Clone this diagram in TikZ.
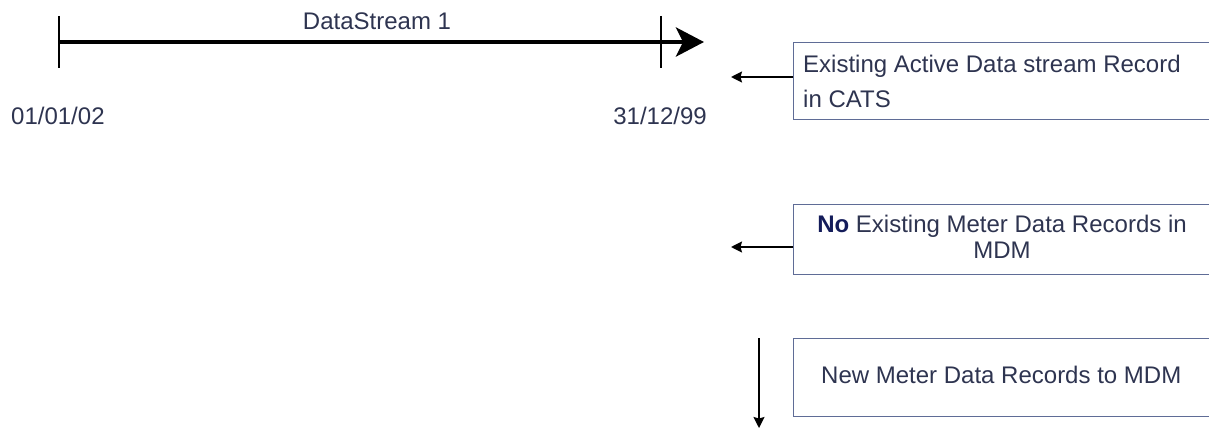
\documentclass[tikz,border=0pt]{standalone}
\usepackage{fontspec}
\setmainfont{Liberation Sans}
\usetikzlibrary{arrows.meta}
\definecolor{txt}{RGB}{46,52,80}
\definecolor{boldtxt}{RGB}{20,28,90}
\definecolor{boxline}{RGB}{95,108,150}
\tikzset{
  lbl/.style={inner sep=0pt, text=txt, font=\fontsize{24}{28}\selectfont},
  recbox/.style={draw=boxline, line width=1.3pt, inner sep=0pt, anchor=north west},
  tick/.style={line width=1.3pt, black},
  mainarrow/.style={line width=4.5pt, -{Stealth[length=28pt,width=29pt,inset=7pt]}},
  ptr/.style={line width=1.6pt, -{Stealth[length=11pt,width=11pt,inset=1.5pt]}}
}
\begin{document}
\begin{tikzpicture}[x=1pt,y=-1pt]
\useasboundingbox (0,0) rectangle (1209,428);
% timeline
\coordinate (t0) at (59,42);
\coordinate (t1) at (704,42);
\coordinate (k0a) at (59,16);
\coordinate (k0b) at (59,68);
\coordinate (k1a) at (661,16);
\coordinate (k1b) at (661,68);
\draw[mainarrow] (t0) -- (t1);
\draw[tick] (k0a) -- (k0b);
\draw[tick] (k1a) -- (k1b);
\node[lbl, anchor=base] (ds) at (377,30) {DataStream 1};
\node[lbl, anchor=base west] (d0) at (11,124) {01/01/02};
\node[lbl, anchor=base east] (d1) at (707,124) {31/12/99};
% box 1
\node[recbox, minimum width=425pt, minimum height=77pt] (box1) at (793,42) {};
\node[lbl, anchor=base west] (b1l1) at (803,72) {Existing Active Data stream Record};
\node[lbl, anchor=base west] (b1l2) at (803,107) {in CATS};
\coordinate (a1) at (731,77);
\draw[ptr] (box1.west |- a1) -- (a1);
% box 2
\node[recbox, minimum width=425pt, minimum height=70pt] (box2) at (793,204) {};
\node[lbl, anchor=base] (b2l1) at (1002,232) {{\color{boldtxt}\bfseries No} Existing Meter Data Records in};
\node[lbl, anchor=base] (b2l2) at (1002,258) {MDM};
\coordinate (a2) at (731,247);
\draw[ptr] (box2.west |- a2) -- (a2);
% box 3
\node[recbox, minimum width=425pt, minimum height=78pt] (box3) at (793,338) {};
\node[lbl, anchor=base west] (b3l1) at (821,383) {New Meter Data Records to MDM};
\coordinate (a3s) at (759,338);
\coordinate (a3e) at (759,428);
\draw[ptr] (a3s) -- (a3e);
\end{tikzpicture}
\end{document}
